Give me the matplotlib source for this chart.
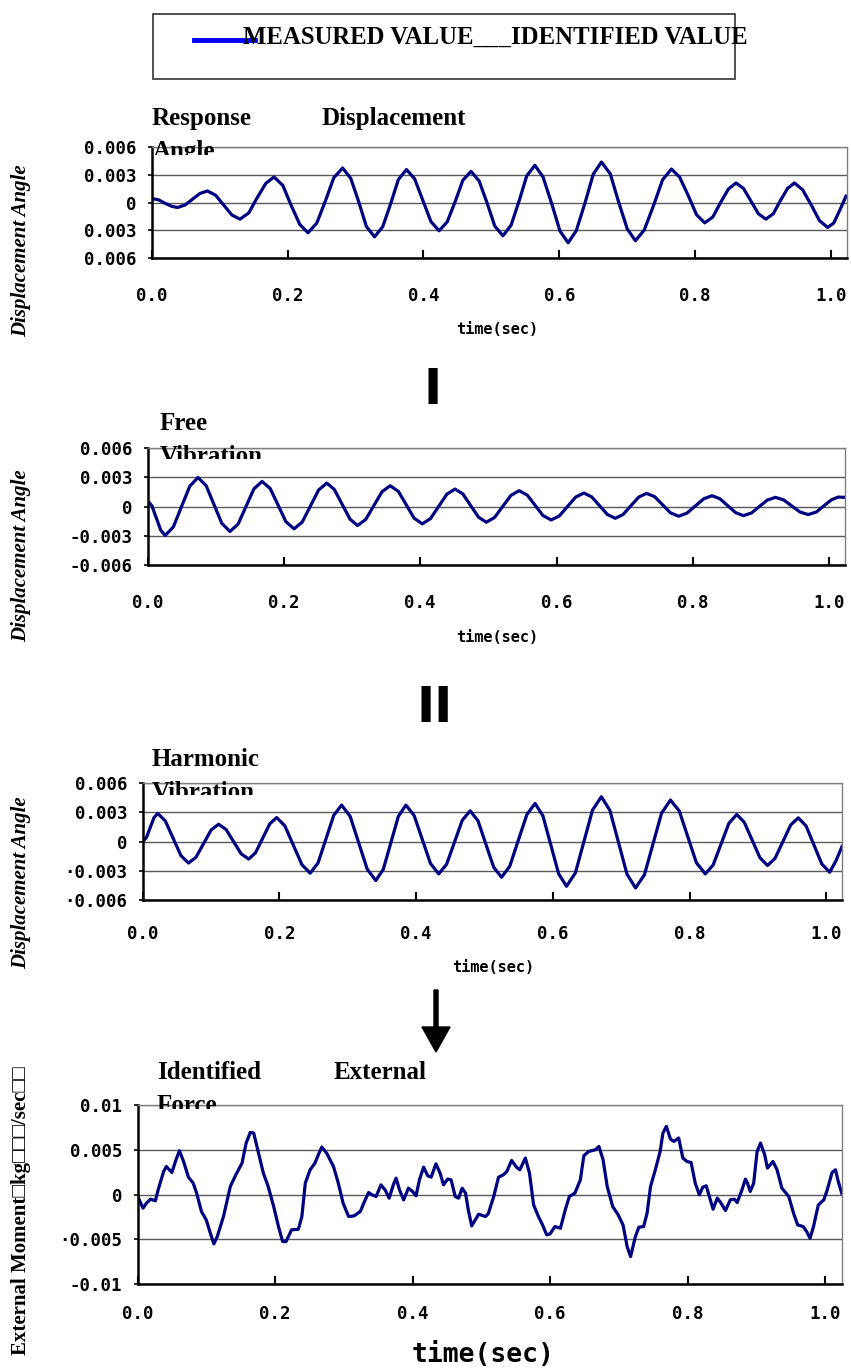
import numpy as np
import matplotlib.pyplot as plt
from matplotlib.patches import Rectangle, FancyArrow
from matplotlib.lines import Line2D
from matplotlib.transforms import Bbox, IdentityTransform

# ---- data, values in units of 1e-3 ----
resp_t = [0.000, 0.010, 0.019, 0.029, 0.038, 0.049, 0.060, 0.071, 0.082, 0.094, 0.106, 0.118,
          0.130, 0.143, 0.155, 0.168, 0.180, 0.193, 0.205, 0.218, 0.230, 0.243, 0.256, 0.268,
          0.281, 0.293, 0.305, 0.316, 0.328, 0.340, 0.352, 0.363, 0.375, 0.387, 0.399, 0.411,
          0.423, 0.435, 0.447, 0.458, 0.470, 0.482, 0.494, 0.505, 0.517, 0.529, 0.541, 0.552,
          0.564, 0.576, 0.589, 0.601, 0.613, 0.625, 0.638, 0.650, 0.662, 0.675, 0.687, 0.700,
          0.712, 0.725, 0.739, 0.752, 0.765, 0.777, 0.790, 0.802, 0.814, 0.826, 0.837, 0.849,
          0.860, 0.871, 0.882, 0.893, 0.904, 0.915, 0.925, 0.936, 0.946, 0.958, 0.971, 0.983,
          0.995, 1.004, 1.013, 1.022]
resp_v = [0.43, 0.29, -0.06, -0.40, -0.54, -0.27, 0.35, 0.97, 1.24, 0.79, -0.28, -1.34,
          -1.79, -1.11, 0.48, 2.06, 2.74, 1.84, -0.26, -2.36, -3.26, -2.21, 0.23, 2.66,
          3.71, 2.60, 0.01, -2.58, -3.69, -2.61, -0.08, 2.46, 3.54, 2.55, 0.25, -2.05,
          -3.04, -2.08, 0.16, 2.39, 3.35, 2.31, -0.12, -2.54, -3.58, -2.44, 0.21, 2.86,
          4.00, 2.75, -0.17, -3.08, -4.33, -3.03, 0.01, 3.05, 4.35, 3.08, 0.12, -2.84,
          -4.11, -2.96, -0.26, 2.44, 3.60, 2.73, 0.71, -1.32, -2.19, -1.55, -0.05, 1.46,
          2.10, 1.52, 0.16, -1.21, -1.79, -1.21, 0.16, 1.52, 2.10, 1.38, -0.29, -1.96,
          -2.68, -2.20, -0.80, 0.68]

free_t = [0.000, 0.0065, 0.013, 0.0195, 0.026, 0.038, 0.050, 0.062, 0.074, 0.086, 0.0975, 0.109,
          0.121, 0.133, 0.1445, 0.156, 0.168, 0.180, 0.1915, 0.203, 0.215, 0.227, 0.239, 0.251,
          0.263, 0.274, 0.2855, 0.297, 0.308, 0.320, 0.332, 0.344, 0.356, 0.368, 0.3795, 0.391,
          0.403, 0.415, 0.427, 0.439, 0.451, 0.4625, 0.474, 0.4855, 0.497, 0.509, 0.521, 0.533,
          0.545, 0.557, 0.5685, 0.580, 0.592, 0.604, 0.616, 0.628, 0.640, 0.6515, 0.663, 0.6745,
          0.686, 0.6975, 0.709, 0.7205, 0.732, 0.744, 0.7555, 0.767, 0.779, 0.791, 0.8035, 0.816,
          0.828, 0.8395, 0.851, 0.8625, 0.874, 0.886, 0.8975, 0.909, 0.921, 0.933, 0.945, 0.957,
          0.969, 0.981, 0.992, 1.003, 1.013, 1.023]
free_v = [0.61, 0.08, -1.17, -2.42, -2.95, -2.06, 0.02, 2.09, 2.98, 2.15, 0.22, -1.71,
          -2.54, -1.77, 0.02, 1.81, 2.58, 1.85, 0.16, -1.54, -2.27, -1.57, 0.07, 1.71,
          2.41, 1.76, 0.24, -1.28, -1.93, -1.32, 0.11, 1.53, 2.14, 1.56, 0.19, -1.18,
          -1.76, -1.23, 0.02, 1.27, 1.80, 1.30, 0.11, -1.08, -1.59, -1.11, 0.02, 1.15,
          1.63, 1.18, 0.14, -0.91, -1.36, -0.95, 0.02, 0.98, 1.39, 1.00, 0.10, -0.80,
          -1.19, -0.81, 0.09, 0.98, 1.36, 1.01, 0.19, -0.63, -0.98, -0.67, 0.07, 0.81,
          1.12, 0.81, 0.10, -0.61, -0.92, -0.64, 0.02, 0.67, 0.95, 0.69, 0.07, -0.55,
          -0.81, -0.55, 0.08, 0.70, 0.98, 0.95]

harm_t = [0.000, 0.0055, 0.011, 0.0165, 0.022, 0.033, 0.0445, 0.056, 0.067, 0.078, 0.089, 0.100,
          0.111, 0.122, 0.133, 0.144, 0.155, 0.165, 0.1755, 0.186, 0.196, 0.208, 0.2205, 0.233,
          0.245, 0.2565, 0.268, 0.2795, 0.291, 0.3035, 0.316, 0.3285, 0.341, 0.352, 0.363, 0.374,
          0.385, 0.397, 0.409, 0.421, 0.433, 0.4445, 0.456, 0.4675, 0.479, 0.4905, 0.502, 0.5135,
          0.525, 0.537, 0.5495, 0.562, 0.574, 0.5855, 0.597, 0.6085, 0.620, 0.633, 0.6455, 0.658,
          0.671, 0.6835, 0.696, 0.7085, 0.721, 0.734, 0.7465, 0.759, 0.772, 0.785, 0.7975, 0.810,
          0.823, 0.8345, 0.846, 0.8575, 0.869, 0.880, 0.8915, 0.903, 0.914, 0.925, 0.9365, 0.948,
          0.959, 0.9705, 0.982, 0.9935, 1.005, 1.014, 1.023]
harm_v = [0.00, 0.43, 1.45, 2.47, 2.90, 2.14, 0.35, -1.44, -2.20, -1.60, -0.21, 1.19,
          1.79, 1.25, 0.00, -1.25, -1.79, -1.15, 0.35, 1.84, 2.48, 1.62, -0.38, -2.38,
          -3.24, -2.19, 0.26, 2.71, 3.76, 2.60, -0.12, -2.84, -4.00, -2.84, -0.12, 2.60,
          3.76, 2.70, 0.23, -2.25, -3.31, -2.34, -0.07, 2.20, 3.17, 2.15, -0.25, -2.64,
          -3.66, -2.52, 0.14, 2.79, 3.93, 2.65, -0.33, -3.31, -4.59, -3.21, 0.02, 3.24,
          4.62, 3.21, -0.07, -3.35, -4.76, -3.40, -0.24, 2.92, 4.28, 3.15, 0.49, -2.17,
          -3.31, -2.40, -0.26, 1.88, 2.79, 2.00, 0.17, -1.66, -2.45, -1.72, 0.00, 1.72,
          2.45, 1.61, -0.35, -2.30, -3.14, -2.00, -0.50]

force_t = [0.000, 0.008, 0.013, 0.019, 0.026, 0.030, 0.038, 0.042, 0.050, 0.056, 0.061, 0.067,
           0.074, 0.081, 0.086, 0.093, 0.100, 0.106, 0.111, 0.116, 0.125, 0.135, 0.143, 0.152,
           0.158, 0.164, 0.169, 0.176, 0.183, 0.190, 0.198, 0.205, 0.211, 0.216, 0.224, 0.234,
           0.239, 0.244, 0.251, 0.258, 0.263, 0.268, 0.275, 0.285, 0.292, 0.299, 0.307, 0.315,
           0.324, 0.329, 0.336, 0.341, 0.347, 0.354, 0.360, 0.366, 0.372, 0.376, 0.381, 0.387,
           0.394, 0.400, 0.405, 0.410, 0.416, 0.422, 0.427, 0.434, 0.440, 0.445, 0.451, 0.456,
           0.462, 0.467, 0.472, 0.477, 0.481, 0.486, 0.496, 0.506, 0.510, 0.518, 0.525, 0.532,
           0.537, 0.544, 0.551, 0.556, 0.564, 0.570, 0.576, 0.583, 0.589, 0.595, 0.600, 0.607,
           0.615, 0.622, 0.628, 0.636, 0.644, 0.649, 0.656, 0.666, 0.671, 0.677, 0.683, 0.691,
           0.699, 0.706, 0.712, 0.717, 0.724, 0.729, 0.736, 0.741, 0.746, 0.753, 0.760, 0.764,
           0.769, 0.775, 0.780, 0.787, 0.793, 0.799, 0.805, 0.811, 0.817, 0.822, 0.827, 0.833,
           0.837, 0.843, 0.848, 0.855, 0.862, 0.868, 0.872, 0.879, 0.884, 0.887, 0.891, 0.896,
           0.901, 0.906, 0.912, 0.916, 0.924, 0.930, 0.937, 0.947, 0.954, 0.960, 0.968, 0.973,
           0.978, 0.983, 0.990, 0.998, 1.003, 1.010, 1.015, 1.019, 1.024]
force_v = [-0.15, -1.53, -0.97, -0.52, -0.71, 0.52, 2.57, 3.13, 2.46, 3.88, 4.89, 3.69,
           1.94, 1.27, 0.15, -1.90, -2.84, -4.33, -5.52, -4.70, -2.46, 0.90, 2.20, 3.51,
           5.75, 6.94, 6.86, 4.63, 2.39, 0.90, -1.34, -3.58, -5.26, -5.26, -3.95, -3.88,
           -2.46, 1.27, 2.76, 3.51, 4.44, 5.30, 4.63, 3.13, 1.27, -0.97, -2.46, -2.39,
           -1.90, -0.97, 0.22, -0.04, -0.22, 1.08, 0.52, -0.41, 1.08, 1.83, 0.52, -0.60,
           0.71, 0.34, -0.15, 1.64, 3.06, 2.09, 1.94, 3.43, 2.39, 1.08, 1.72, 1.64,
           -0.22, -0.41, 0.71, 0.15, -1.72, -3.51, -2.20, -2.46, -2.16, -0.22, 1.94, 2.20,
           2.57, 3.81, 3.06, 2.76, 4.07, 2.39, -1.16, -2.46, -3.40, -4.51, -4.40, -3.58,
           -3.77, -1.72, -0.22, 0.15, 1.64, 4.33, 4.81, 5.00, 5.37, 3.88, 0.90, -1.34,
           -2.28, -3.40, -5.82, -6.94, -4.70, -3.66, -3.58, -2.09, 0.90, 2.76, 4.81, 6.86,
           7.61, 6.19, 5.93, 6.31, 4.07, 3.69, 3.58, 1.27, -0.04, 0.82, 0.97, -0.60,
           -1.64, -0.41, -0.90, -1.79, -0.60, -0.52, -0.90, 0.52, 1.72, 1.27, 0.34, 1.27,
           4.81, 5.75, 4.44, 2.95, 3.69, 2.76, 0.71, -0.22, -2.09, -3.40, -3.58, -4.14,
           -4.89, -3.58, -1.16, -0.60, 0.52, 2.46, 2.76, 1.46, 0.15]

x_ticks = [0.0, 0.2, 0.4, 0.6, 0.8, 1.0]
x_labels = ["0.0", "0.2", "0.4", "0.6", "0.8", "1.0"]
ang_ticks = [-0.006, -0.003, 0, 0.003, 0.006]
resp_ylabels = ["0.006", "0.003", "0", "0.003", "0.006"]
free_ylabels = ["-0.006", "-0.003", "0", "0.003", "0.006"]
harm_ylabels = ["\u00b70.006", "\u00b70.003", "0", "0.003", "0.006"]
force_ticks = [-0.01, -0.005, 0, 0.005, 0.01]
force_ylabels = ["-0.01", "\u00b70.005", "0", "0.005", "0.01"]

W, H = 851, 1371
fig = plt.figure(figsize=(W / 100, H / 100), dpi=100)
SERIF = ["Liberation Serif", "DejaVu Serif"]
MONO = "DejaVu Sans Mono"


def px(x, y):
    return x / W, 1 - y / H


def panel(box, t, v, yticks, ylabels, ylim, xpad, xmax=1.023):
    l, top, r, b = box
    ax = fig.add_axes([l / W, 1 - b / H, (r - l) / W, (b - top) / H])
    ax.plot(t, np.array(v) * 1e-3, color="#000080", lw=2.3, solid_joinstyle="round")
    ax.set_xlim(0, xmax)
    ax.set_ylim(*ylim)
    ax.set_xticks(x_ticks, x_labels, fontfamily=MONO, fontweight="bold", fontsize=12.5)
    ax.set_yticks(yticks, ylabels, fontfamily=MONO, fontweight="bold", fontsize=12.5)
    ax.grid(axis="y", color="#5a5a5a", lw=1.0)
    ax.tick_params(axis="x", direction="in", length=6, width=1.5, pad=xpad)
    ax.tick_params(axis="y", direction="out", length=3, width=1.2, pad=8)
    for s in ("left", "bottom"):
        ax.spines[s].set_color("black")
        ax.spines[s].set_linewidth(1.8)
    for s in ("top", "right"):
        ax.spines[s].set_color("#808080")
        ax.spines[s].set_linewidth(1.0)
    return ax


def title_line(x, y, s, clip_y=None):
    t = fig.text(*px(x, y), s, fontfamily=SERIF, fontweight="bold", fontsize=18,
                 ha="left", va="baseline", zorder=5)
    if clip_y is not None:
        t.set_clip_box(Bbox.from_extents(0, H - clip_y, W, H))
        t.set_clip_on(True)


def ylabel(y, s, italic=True):
    fig.text(*px(21, y), s, rotation=90, ha="center", va="center",
             fontfamily=SERIF + ["DejaVu Sans"], fontweight="bold",
             fontstyle="italic" if italic else "normal", fontsize=15)


def xlabel(x, y, size=11):
    fig.text(*px(x, y), "time(sec)", ha="center", va="center",
             fontfamily=MONO, fontweight="bold", fontsize=size)


# legend box
fig.add_artist(Rectangle(px(153, 79), (735 - 153) / W, (79 - 14) / H,
                         transform=fig.transFigure, fill=False, ec="#333333", lw=1.2))
fig.text(*px(243, 44), "MEASURED VALUE___IDENTIFIED VALUE", fontfamily=SERIF,
         fontweight="bold", fontsize=17.8, ha="left", va="baseline")
fig.add_artist(Line2D([194 / W, 255 / W], [1 - 40 / H, 1 - 40 / H], color="blue", lw=3.5,
                      transform=fig.transFigure))

# panel 1: response displacement angle
panel((151.7, 146.7, 846.7, 258.3), resp_t, resp_v, ang_ticks, resp_ylabels, (-0.006, 0.006), 21)
title_line(152, 125, "Response")
title_line(322, 125, "Displacement")
title_line(153, 158, "Angle", clip_y=155)
ylabel(251, "Displacement Angle")
xlabel(497, 330)

fig.text(*px(433, 390), "I", fontfamily="DejaVu Sans", fontweight="bold", fontsize=35,
         ha="center", va="center")

# panel 2: free vibration
panel((147.5, 448, 845, 565.3), free_t, free_v, ang_ticks, free_ylabels, (-0.006, 0.006), 21)
title_line(160, 430, "Free")
title_line(160, 463, "Vibration", clip_y=459)
ylabel(556, "Displacement Angle")
xlabel(497, 638)

fig.text(*px(435, 708), "II", fontfamily="DejaVu Sans", fontweight="bold", fontsize=35,
         ha="center", va="center")

# panel 3: harmonic vibration
panel((142.7, 783.3, 842, 900), harm_t, harm_v, ang_ticks, harm_ylabels, (-0.006, 0.006), 18)
title_line(152, 766, "Harmonic")
title_line(152, 799, "Vibration", clip_y=795)
ylabel(883, "Displacement Angle")
xlabel(493, 967)

fig.add_artist(FancyArrow(436, H - 990, 0, -62, width=4, head_width=28, head_length=25,
                          length_includes_head=True, color="black",
                          transform=IdentityTransform()))

# panel 4: identified external force
panel((137.5, 1105, 841.7, 1284), force_t, force_v, force_ticks, force_ylabels,
      (-0.01, 0.01), 15, xmax=1.024)
title_line(157, 1079, "Identified")
title_line(334, 1079, "External")
title_line(157, 1112, "Force", clip_y=1109)
ylabel(1211, "External Moment\u25a1kg\u25a1\u25a1\u25a1/sec\u25a1\u25a1", italic=False)
xlabel(483, 1355, size=19)

fig.savefig("out.png", dpi=100)
